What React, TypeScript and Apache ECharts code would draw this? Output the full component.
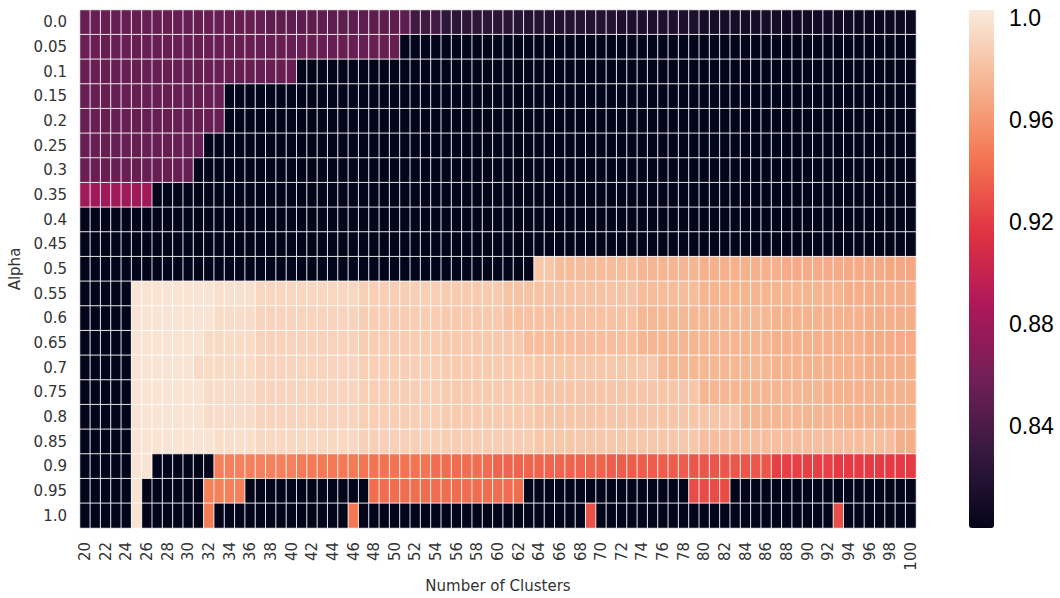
import React, { useEffect, useRef } from "react";
import * as echarts from "echarts";

const clusterLabels = [
  "20","21","22","23","24","25","26","27","28","29","30","31","32","33","34","35","36","37","38","39",
  "40","41","42","43","44","45","46","47","48","49","50","51","52","53","54","55","56","57","58","59",
  "60","61","62","63","64","65","66","67","68","69","70","71","72","73","74","75","76","77","78","79",
  "80","81","82","83","84","85","86","87","88","89","90","91","92","93","94","95","96","97","98","99","100",
];

const alphaLabels = [
  "0.0","0.05","0.1","0.15","0.2","0.25","0.3","0.35","0.4","0.45","0.5",
  "0.55","0.6","0.65","0.7","0.75","0.8","0.85","0.9","0.95","1.0",
];

// Each row: run-length segments [startColumnIndex, value].
const row000 = [[0, 0.853], [18, 0.849], [32, 0.835], [35, 0.825], [40, 0.823], [43, 0.819], [52, 0.815], [60, 0.811], [68, 0.809], [75, 0.806]];
const row005 = [[0, 0.855], [2, 0.853], [31, 0.8]];
const row010 = [[0, 0.853], [21, 0.8]];
const row015 = [[0, 0.853], [14, 0.8]];
const row020 = [[0, 0.853], [14, 0.8]];
const row025 = [[0, 0.853], [12, 0.8]];
const row030 = [[0, 0.853], [11, 0.8]];
const row035 = [[0, 0.881], [7, 0.8]];
const row040 = [[0, 0.8]];
const row045 = [[0, 0.8]];
const row050 = [[0, 0.8], [44, 0.984], [46, 0.978], [54, 0.975], [60, 0.972], [68, 0.97], [78, 0.968]];
const row055 = [[0, 0.8], [5, 0.999], [13, 0.997], [17, 0.992], [27, 0.988], [35, 0.986], [41, 0.982], [54, 0.978], [60, 0.974], [74, 0.971]];
const row060 = [[0, 0.8], [5, 0.999], [13, 0.995], [17, 0.991], [27, 0.987], [35, 0.985], [41, 0.981], [54, 0.976], [67, 0.973], [76, 0.971]];
const row065 = [[0, 0.8], [5, 0.999], [12, 0.994], [17, 0.99], [27, 0.987], [35, 0.985], [43, 0.979], [54, 0.975], [67, 0.972], [76, 0.97]];
const row070 = [[0, 0.8], [5, 0.999], [11, 0.994], [17, 0.991], [27, 0.988], [35, 0.986], [44, 0.984], [56, 0.976], [67, 0.973], [76, 0.971]];
const row075 = [[0, 0.8], [5, 0.999], [12, 0.995], [17, 0.991], [27, 0.988], [35, 0.986], [44, 0.983], [60, 0.975], [72, 0.973]];
const row080 = [[0, 0.8], [5, 0.999], [12, 0.995], [17, 0.991], [27, 0.988], [35, 0.986], [44, 0.983], [64, 0.975], [74, 0.973]];
const row085 = [[0, 0.8], [5, 0.999], [13, 0.996], [17, 0.993], [27, 0.989], [35, 0.987], [44, 0.984], [60, 0.979], [79, 0.971]];
const row090 = [[0, 0.8], [5, 0.999], [7, 0.8], [13, 0.95], [21, 0.947], [27, 0.944], [34, 0.941], [40, 0.937], [51, 0.934], [59, 0.931], [67, 0.922], [73, 0.919]];
const row095 = [[0, 0.8], [5, 0.999], [6, 0.8], [12, 0.95], [16, 0.8], [28, 0.941], [43, 0.8], [59, 0.927], [63, 0.8]];
const row100 = [[0, 0.8], [5, 0.999], [6, 0.8], [12, 0.948], [13, 0.8], [26, 0.946], [27, 0.8], [49, 0.929], [50, 0.8], [73, 0.928], [74, 0.8]];

const rows = [
  row000, row005, row010, row015, row020, row025, row030, row035, row040, row045, row050,
  row055, row060, row065, row070, row075, row080, row085, row090, row095, row100,
];

const rocket = ["#03051a", "#35193e", "#701f57", "#ad1759", "#e13342", "#f37651", "#f6b48f", "#faebdd"];

const colorMin = 0.8;
const colorMax = 1.003;

function buildData() {
  const out: [number, number, number][] = [];
  rows.forEach((segs, y) => {
    for (let s = 0; s < segs.length; s++) {
      const start = segs[s][0];
      const end = s + 1 < segs.length ? segs[s + 1][0] : clusterLabels.length;
      for (let x = start; x < end; x++) out.push([x, y, segs[s][1]]);
    }
  });
  return out;
}

export default function App() {
  const ref = useRef<HTMLDivElement>(null);
  useEffect(() => {
    document.body.style.margin = "0";
    const chart = echarts.init(ref.current!, undefined, { renderer: "svg" });
    const tickFont = "DejaVu Sans";
    chart.setOption({
      animation: false,
      backgroundColor: "#ffffff",
      grid: [
        { left: 80, top: 10, width: 836, height: 518, containLabel: false, outerBoundsMode: "none" },
        { left: 969, top: 10, width: 25, height: 518, containLabel: false, outerBoundsMode: "none" },
      ],
      xAxis: [
        {
          type: "category",
          gridIndex: 0,
          data: clusterLabels,
          axisLine: { show: false },
          axisTick: { show: false },
          splitLine: { show: false },
          axisLabel: { interval: 1, rotate: 90, margin: 14, fontSize: 15, color: "#333", fontFamily: tickFont },
          name: "Number of Clusters",
          nameLocation: "middle",
          nameGap: 48,
          nameTextStyle: { fontSize: 15, color: "#333", fontFamily: tickFont },
        },
        { type: "value", gridIndex: 1, show: false },
      ],
      yAxis: [
        {
          type: "category",
          gridIndex: 0,
          data: alphaLabels,
          inverse: true,
          axisLine: { show: false },
          axisTick: { show: false },
          splitLine: { show: false },
          axisLabel: { interval: 0, margin: 13, fontSize: 15, color: "#333", fontFamily: tickFont },
          name: "Alpha",
          nameLocation: "middle",
          nameGap: 54,
          nameTextStyle: { fontSize: 15, color: "#333", fontFamily: tickFont },
        },
        {
          type: "value",
          gridIndex: 1,
          position: "right",
          min: colorMin,
          max: colorMax,
          interval: 0.04,
          axisLine: { show: false },
          axisTick: { show: false },
          splitLine: { show: false },
          axisLabel: {
            showMinLabel: true,
            showMaxLabel: true,
            margin: 15,
            fontSize: 23,
            color: "#000",
            fontFamily: "Liberation Sans, Arial, sans-serif",
            formatter: (v: number) => {
              const k = Math.round(v / 0.04);
              if (Math.abs(v - k * 0.04) > 1e-4 || k < 21) return "";
              return k === 25 ? "1.0" : v.toFixed(2);
            },
          },
        },
      ],
      visualMap: {
        type: "continuous",
        seriesIndex: 0,
        min: colorMin,
        max: colorMax,
        left: 969,
        top: 10,
        itemWidth: 25,
        itemHeight: 518,
        padding: 0,
        calculable: false,
        inRange: { color: rocket },
      },
      series: [
        {
          type: "heatmap",
          xAxisIndex: 0,
          yAxisIndex: 0,
          data: buildData(),
          itemStyle: { borderColor: "rgba(255,255,255,0.85)", borderWidth: 1 },
          emphasis: { disabled: true },
        },
      ],
    });
    return () => chart.dispose();
  }, []);
  return <div ref={ref} style={{ width: 1060, height: 598 }} />;
}
